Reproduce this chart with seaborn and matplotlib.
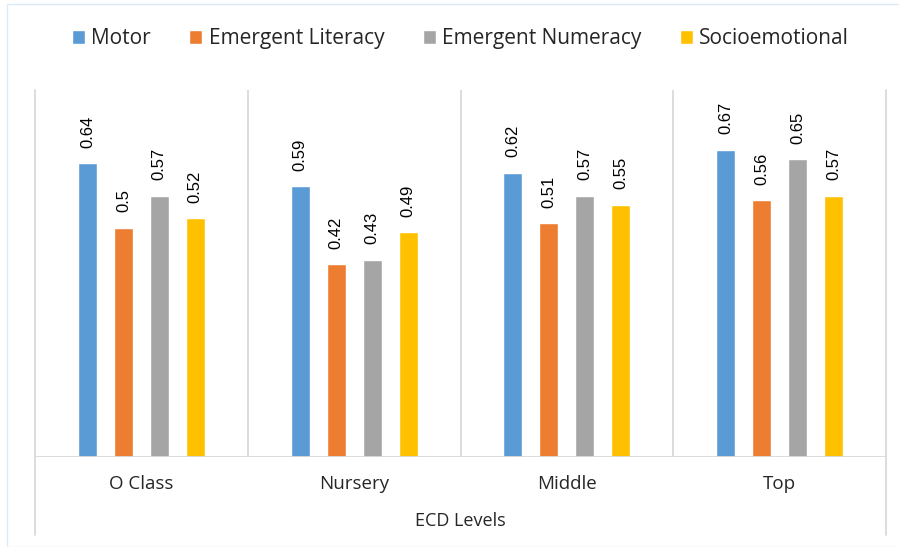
import matplotlib
matplotlib.use("Agg")
import matplotlib.pyplot as plt
from matplotlib.lines import Line2D
from matplotlib.patches import Rectangle
import seaborn as sns
import pandas as pd

levels = ['O Class', 'Nursery', 'Middle', 'Top']
domains = ['Motor', 'Emergent Literacy', 'Emergent Numeracy', 'Socioemotional']
motor = [0.64, 0.59, 0.62, 0.67]
literacy = [0.50, 0.42, 0.51, 0.56]
numeracy = [0.57, 0.43, 0.57, 0.65]
socio = [0.52, 0.49, 0.55, 0.57]
colors = ['#5B9BD5', '#ED7D31', '#A5A5A5', '#FFC000']

rows = []
for d, vals in zip(domains, [motor, literacy, numeracy, socio]):
    for lv, v in zip(levels, vals):
        rows.append({'level': lv, 'domain': d, 'score': v})
df = pd.DataFrame(rows)

sns.set_style('white')
plt.rcParams['font.family'] = ['Open Sans', 'DejaVu Sans']

fig = plt.figure(figsize=(8.99, 5.47), dpi=100)
W, H = 899, 547
ax = fig.add_axes([35 / W, (H - 457) / H, (886 - 35) / W, (457 - 90) / H])

sns.barplot(data=df, x='level', y='score', hue='domain', order=levels,
            hue_order=domains, palette=colors, width=0.676, ax=ax,
            legend=True, errorbar=None, saturation=1)

# narrow bars, keep gaps between them
bw = 19 / 213
for c in ax.containers:
    for p in c:
        cx = p.get_x() + p.get_width() / 2
        p.set_width(bw)
        p.set_x(cx - bw / 2)
    ax.bar_label(c, labels=[('%g' % v) for v in c.datavalues], rotation=90,
                 padding=11, fontsize=12, family='Liberation Sans', color='#000000')

ax.set_ylim(0, 0.8)
ax.set_xlim(-0.5, 3.5)
ax.set_yticks([])
ax.set_xlabel('ECD Levels', fontsize=13, labelpad=14)
ax.set_ylabel('')
ax.tick_params(axis='x', length=0, pad=13, labelsize=13.5)
for s in ax.spines.values():
    s.set_visible(False)

gc = '#D9D9D9'
ax.axhline(0, color=gc, lw=1.3)
for xb in [0.5, 1.5, 2.5]:
    ax.axvline(xb, color=gc, lw=1.3)
drop = (535 - 457) / (457 - 90)
for xf in [0, 1]:
    ax.add_line(Line2D([xf, xf], [-drop, 1], transform=ax.transAxes,
                       color=gc, lw=1.3, clip_on=False))

h, l = ax.get_legend_handles_labels()
ax.legend(h, l, loc='center', bbox_to_anchor=(0.5, (39 - 457) / (90 - 457)),
          ncol=4, frameon=False, fontsize=15, handlelength=0.62,
          handleheight=0.62, handletextpad=0.3, columnspacing=1.85)

fig.patches.append(Rectangle((7 / W, 0), 1, (H - 4) / H, transform=fig.transFigure,
                             fill=False, edgecolor='#DDEBF7', lw=1))

fig.savefig('out.png', dpi=100)
